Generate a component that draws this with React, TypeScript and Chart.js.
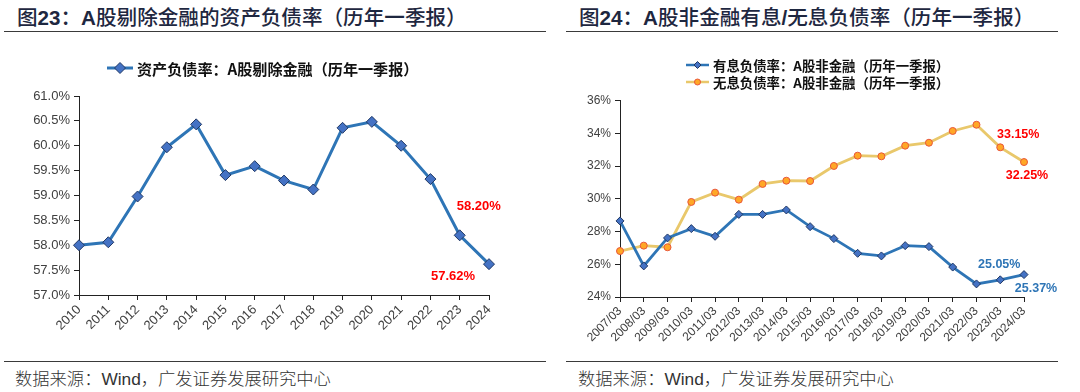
import React, { useEffect, useRef } from 'react';
import { Chart, registerables } from 'chart.js';

Chart.register(...registerables);

// ---------- data ----------
const yearsLeft = ['2010', '2011', '2012', '2013', '2014', '2015', '2016', '2017', '2018', '2019', '2020', '2021', '2022', '2023', '2024'];
const debtRatioExFin = [58.0, 58.06, 58.98, 59.97, 60.43, 59.41, 59.59, 59.3, 59.12, 60.36, 60.48, 60.0, 59.33, 58.2, 57.62];

const quartersRight = ['2007/03', '2008/03', '2009/03', '2010/03', '2011/03', '2012/03', '2013/03', '2014/03', '2015/03', '2016/03', '2017/03', '2018/03', '2019/03', '2020/03', '2021/03', '2022/03', '2023/03', '2024/03'];
const interestBearing = [28.65, 25.9, 27.61, 28.18, 27.71, 29.05, 29.05, 29.32, 28.3, 27.57, 26.67, 26.51, 27.14, 27.08, 25.83, 24.8, 25.05, 25.37];
const nonInterest = [26.81, 27.14, 27.04, 29.81, 30.38, 29.95, 30.91, 31.11, 31.09, 32.01, 32.64, 32.6, 33.25, 33.43, 34.15, 34.53, 33.15, 32.25];

const leftLegend = '资产负债率：A股剔除金融（历年一季报）';
const rightLegend1 = '有息负债率：A股非金融（历年一季报）';
const rightLegend2 = '无息负债率：A股非金融（历年一季报）';

const LATIN = "'Liberation Sans', Arial, 'Noto Sans CJK SC', sans-serif";
const CJK = "'Noto Sans CJK SC', 'Liberation Sans', sans-serif";

const BLUE = '#2E75B6';
const BLUE_FILL = '#4472C4';
const BLUE_EDGE = '#203864';
const GOLD = '#E9C86B';
const GOLD_FILL = '#FFA726';
const GOLD_EDGE = '#E8563A';

function drawMarker(ctx: CanvasRenderingContext2D, style: string, x: number, y: number, r: number, fill: string, edge: string) {
  ctx.save();
  ctx.beginPath();
  if (style === 'rectRot') {
    ctx.moveTo(x, y - r);
    ctx.lineTo(x + r, y);
    ctx.lineTo(x, y + r);
    ctx.lineTo(x - r, y);
    ctx.closePath();
  } else {
    ctx.arc(x, y, r, 0, Math.PI * 2);
  }
  ctx.fillStyle = fill;
  ctx.fill();
  ctx.strokeStyle = edge;
  ctx.lineWidth = 1;
  ctx.stroke();
  ctx.restore();
}

const legendPlugin = {
  id: 'fixedLegend',
  afterDraw(chart: any, _args: any, opts: any) {
    const ctx = chart.ctx as CanvasRenderingContext2D;
    (opts.items || []).forEach((it: any) => {
      ctx.save();
      ctx.strokeStyle = it.lineColor;
      ctx.lineWidth = it.lineWidth;
      ctx.beginPath();
      ctx.moveTo(it.x, it.y);
      ctx.lineTo(it.x + it.len, it.y);
      ctx.stroke();
      drawMarker(ctx, it.marker, it.x + it.len / 2, it.y, it.r, it.fill, it.edge);
      ctx.fillStyle = '#111';
      ctx.font = it.font;
      ctx.textBaseline = 'middle';
      ctx.textAlign = 'left';
      ctx.fillText(it.text, it.x + it.len + 4, it.y + 1);
      ctx.restore();
    });
  },
};

const valueLabelPlugin = {
  id: 'valueLabels',
  afterDatasetsDraw(chart: any, _args: any, opts: any) {
    const ctx = chart.ctx as CanvasRenderingContext2D;
    (opts.items || []).forEach((it: any) => {
      const meta = chart.getDatasetMeta(it.ds);
      const pt = meta.data[it.idx];
      if (!pt) return;
      const v = chart.data.datasets[it.ds].data[it.idx];
      ctx.save();
      ctx.fillStyle = it.color;
      ctx.font = it.font;
      ctx.textAlign = 'center';
      ctx.textBaseline = 'middle';
      ctx.fillText(Number(v).toFixed(2) + '%', pt.x + it.dx, pt.y + it.dy);
      ctx.restore();
    });
  },
};

function axisCommon(fontSize: number) {
  return {
    border: { display: true, color: '#222', width: 1 },
    grid: { display: true, drawOnChartArea: false, drawTicks: true, tickLength: 5, tickColor: '#222', tickWidth: 1 },
    ticks: { color: '#404040', font: { family: LATIN, size: fontSize } },
  };
}

function LeftChart() {
  const ref = useRef<HTMLCanvasElement>(null);
  useEffect(() => {
    const c = axisCommon(13);
    const chart = new Chart(ref.current!, {
      type: 'line',
      data: {
        labels: yearsLeft,
        datasets: [
          {
            label: leftLegend,
            data: debtRatioExFin,
            borderColor: BLUE,
            borderWidth: 3,
            pointStyle: 'rectRot',
            pointRadius: 5.5,
            pointBackgroundColor: BLUE_FILL,
            pointBorderColor: BLUE_EDGE,
            pointBorderWidth: 1,
            tension: 0,
          },
        ],
      },
      options: {
        responsive: false,
        animation: false,
        layout: { padding: { left: 0, right: 51, top: 62, bottom: 5 } },
        plugins: {
          legend: { display: false },
          tooltip: { enabled: false },
          fixedLegend: {
            items: [
              { x: 107, y: 34, len: 26, lineColor: BLUE, lineWidth: 3, marker: 'rectRot', r: 5.5, fill: BLUE_FILL, edge: BLUE_EDGE, text: leftLegend, font: `bold 15.1px ${CJK}` },
            ],
          },
          valueLabels: {
            items: [
              { ds: 0, idx: 13, dx: 19, dy: -29, color: '#FF0000', font: `bold 13px ${LATIN}` },
              { ds: 0, idx: 14, dx: -36, dy: 12, color: '#FF0000', font: `bold 13px ${LATIN}` },
            ],
          },
        } as any,
        scales: {
          x: {
            offset: false,
            ...c,
            ticks: { ...c.ticks, autoSkip: false, maxRotation: 45, minRotation: 45, padding: 2 },
            afterFit: (s: any) => { s.height = 60; },
          },
          y: {
            min: 57,
            max: 61,
            ...c,
            ticks: { ...c.ticks, stepSize: 0.5, padding: 4, callback: (v: any) => Number(v).toFixed(1) + '%' },
            afterFit: (s: any) => { s.width = 79; },
          },
        } as any,
      },
      plugins: [legendPlugin, valueLabelPlugin],
    });
    return () => chart.destroy();
  }, []);
  return <canvas ref={ref} width={540} height={326} style={{ position: 'absolute', left: 0, top: 34, width: 540, height: 326 }} />;
}

function RightChart() {
  const ref = useRef<HTMLCanvasElement>(null);
  useEffect(() => {
    const c = axisCommon(12);
    const chart = new Chart(ref.current!, {
      type: 'line',
      data: {
        labels: quartersRight,
        datasets: [
          {
            label: rightLegend1,
            data: interestBearing,
            borderColor: BLUE,
            borderWidth: 2.8,
            pointStyle: 'rectRot',
            pointRadius: 4,
            pointBackgroundColor: BLUE_FILL,
            pointBorderColor: BLUE_EDGE,
            pointBorderWidth: 1,
            tension: 0,
          },
          {
            label: rightLegend2,
            data: nonInterest,
            borderColor: GOLD,
            borderWidth: 2.8,
            pointStyle: 'circle',
            pointRadius: 3.5,
            pointBackgroundColor: GOLD_FILL,
            pointBorderColor: GOLD_EDGE,
            pointBorderWidth: 1,
            tension: 0,
          },
        ],
      },
      options: {
        responsive: false,
        animation: false,
        layout: { padding: { left: 0, right: 56, top: 66.7, bottom: 3 } },
        plugins: {
          legend: { display: false },
          tooltip: { enabled: false },
          fixedLegend: {
            items: [
              { x: 146, y: 31, len: 23, lineColor: BLUE, lineWidth: 2.5, marker: 'rectRot', r: 3.5, fill: BLUE_FILL, edge: BLUE_EDGE, text: rightLegend1, font: `bold 13.4px ${CJK}` },
              { x: 146, y: 48, len: 23, lineColor: GOLD, lineWidth: 2.5, marker: 'circle', r: 3, fill: GOLD_FILL, edge: GOLD_EDGE, text: rightLegend2, font: `bold 13.4px ${CJK}` },
            ],
          },
          valueLabels: {
            items: [
              { ds: 1, idx: 16, dx: 18, dy: -13, color: '#FF0000', font: `bold 12.5px ${LATIN}` },
              { ds: 1, idx: 17, dx: 3, dy: 14, color: '#FF0000', font: `bold 12.5px ${LATIN}` },
              { ds: 0, idx: 16, dx: -1, dy: -15, color: BLUE, font: `bold 12.5px ${LATIN}` },
              { ds: 0, idx: 17, dx: 12, dy: 14, color: BLUE, font: `bold 12.5px ${LATIN}` },
            ],
          },
        } as any,
        scales: {
          x: {
            offset: false,
            ...c,
            ticks: { ...c.ticks, autoSkip: false, maxRotation: 45, minRotation: 45, padding: 2 },
            afterFit: (s: any) => { s.height = 60; },
          },
          y: {
            min: 24,
            max: 36,
            ...c,
            ticks: { ...c.ticks, stepSize: 2, padding: 4, callback: (v: any) => Number(v).toFixed(0) + '%' },
            afterFit: (s: any) => { s.width = 80; },
          },
        } as any,
      },
      plugins: [legendPlugin, valueLabelPlugin],
    });
    return () => chart.destroy();
  }, []);
  return <canvas ref={ref} width={540} height={326} style={{ position: 'absolute', left: 540, top: 34, width: 540, height: 326 }} />;
}

const titleStyle: React.CSSProperties = {
  position: 'absolute',
  top: 3,
  fontFamily: CJK,
  fontWeight: 500,
  fontSize: 20.6,
  lineHeight: '26px',
  color: '#1E2740',
  whiteSpace: 'nowrap',
};
const latinBold: React.CSSProperties = { fontFamily: LATIN, fontWeight: 'bold' };
const sourceStyle: React.CSSProperties = {
  position: 'absolute',
  top: 368,
  fontFamily: "'Liberation Sans', 'Noto Sans CJK SC', sans-serif",
  fontWeight: 300,
  fontSize: 17.3,
  lineHeight: '22px',
  color: '#333',
  whiteSpace: 'nowrap',
};
const rule = (left: number, width: number, top: number): React.CSSProperties => ({
  position: 'absolute', left, width, top, height: 0, borderTop: '1.5px solid #3a3a3a',
});

export default function App() {
  return (
    <div style={{ position: 'absolute', left: 0, top: 0, width: 1080, height: 392, background: '#fff', overflow: 'hidden' }}>
      <div style={{ ...titleStyle, left: 17 }}>
        图<span style={latinBold}>23</span>：<span style={latinBold}>A</span>股剔除金融的资产负债率（历年一季报）
      </div>
      <div style={{ ...titleStyle, left: 579 }}>
        图<span style={latinBold}>24</span>：<span style={latinBold}>A</span>股非金融有息<span style={latinBold}>/</span>无息负债率（历年一季报）
      </div>
      <div style={rule(4, 542, 31)} />
      <div style={rule(566, 492, 31)} />
      <LeftChart />
      <RightChart />
      <div style={rule(4, 542, 361)} />
      <div style={rule(566, 492, 361)} />
      <div style={{ ...sourceStyle, left: 15 }}>数据来源：Wind，广发证券发展研究中心</div>
      <div style={{ ...sourceStyle, left: 578 }}>数据来源：Wind，广发证券发展研究中心</div>
    </div>
  );
}
